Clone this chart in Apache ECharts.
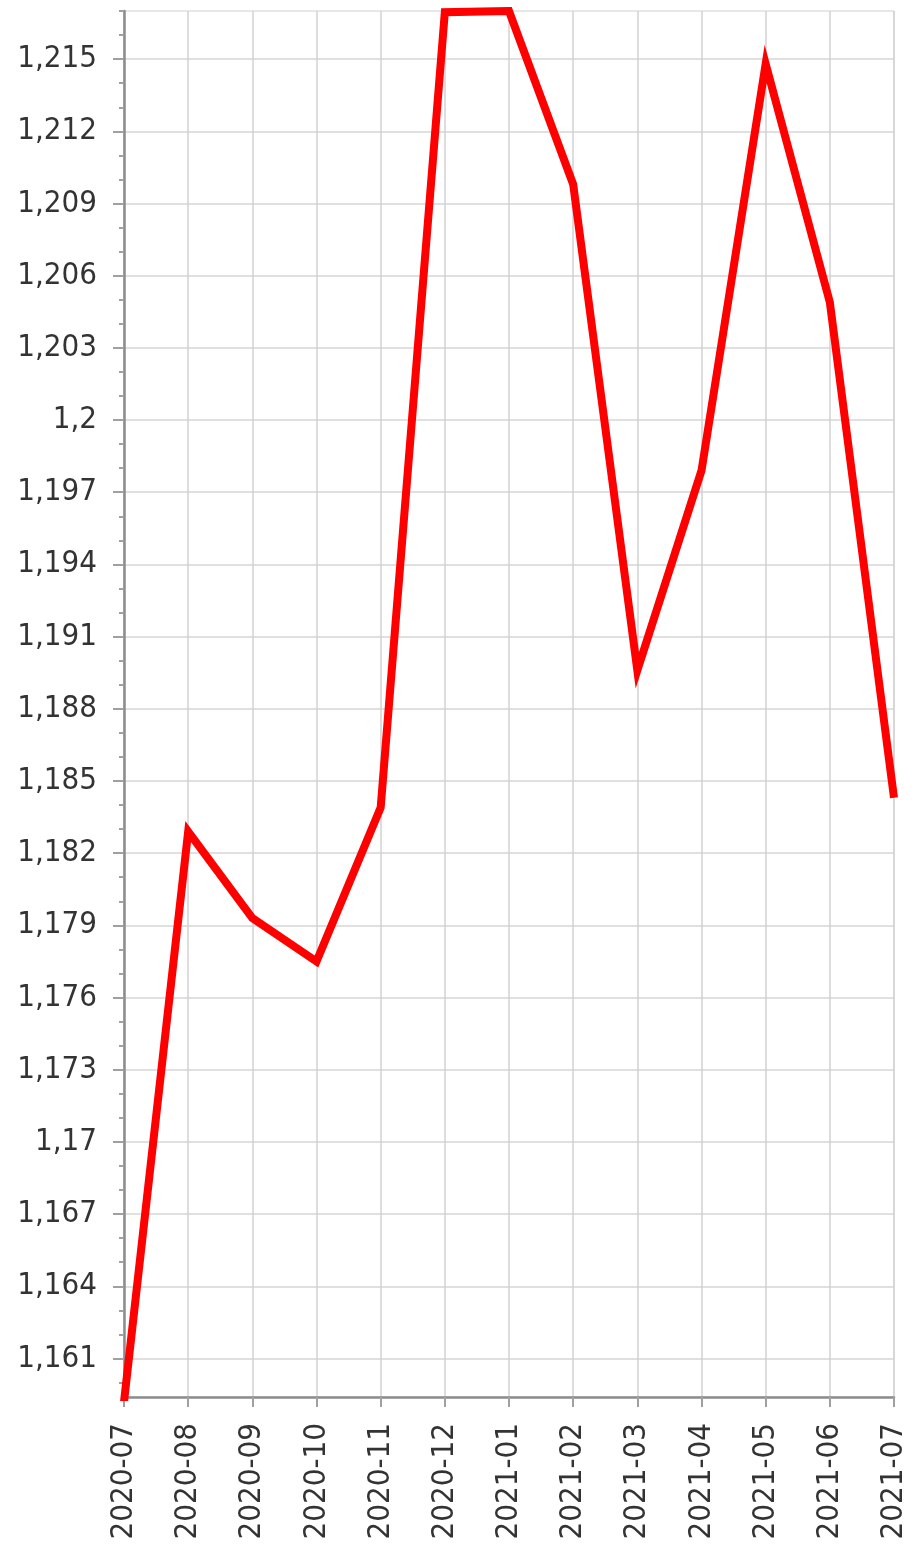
<!DOCTYPE html>
<html>
<head>
<meta charset="utf-8">
<script src="https://cdn.jsdelivr.net/npm/echarts@6/dist/echarts.min.js"></script>
<style>
  html, body { margin: 0; padding: 0; background: #fff; }
  #chart { width: 915px; height: 1544px; }
</style>
</head>
<body>
<div id="chart"></div>
<script>
var months = ['2020-07','2020-08','2020-09','2020-10','2020-11','2020-12','2021-01',
              '2021-02','2021-03','2021-04','2021-05','2021-06','2021-07'];
var values = [1.1592, 1.1829, 1.1793, 1.1775, 1.1839, 1.21695, 1.2170,
              1.2098, 1.1896, 1.1979, 1.2148, 1.2049, 1.1843];
var yTicks = [1.161, 1.164, 1.167, 1.17, 1.173, 1.176, 1.179, 1.182, 1.185, 1.188,
              1.191, 1.194, 1.197, 1.2, 1.203, 1.206, 1.209, 1.212, 1.215];
var yMin = 1.1594;
var yMax = 1.2170;

// minor ticks, two between each labelled tick
var yMinor = [1.160];
yTicks.forEach(function(t){
  yMinor.push(+(t + 0.001).toFixed(3));
  yMinor.push(+(t + 0.002).toFixed(3));
});
yMinor = yMinor.filter(function(v){ return v <= yMax; });

var font = "'DejaVu Sans Condensed', 'Liberation Sans', sans-serif";

var chart = echarts.init(document.getElementById('chart'));
var option = {
  animation: false,
  backgroundColor: '#fff',
  grid: {
    left: 124, right: 21, top: 11, bottom: 147,
    show: true,
    borderColor: '#d0d0d0',
    borderWidth: 1
  },
  xAxis: {
    type: 'category',
    data: months,
    boundaryGap: false,
    axisLine: { lineStyle: { color: '#8c8c8c', width: 2.5 } },
    axisTick: { alignWithLabel: true, length: 10, lineStyle: { color: '#a0a0a0', width: 2 } },
    axisLabel: {
      rotate: 90,
      margin: 26,
      color: '#333',
      fontSize: 31,
      fontFamily: font,
      interval: 0
    },
    splitLine: { show: true, lineStyle: { color: '#d2d2d2', width: 1.5 } }
  },
  yAxis: [{
    type: 'value',
    min: yMin,
    max: yMax,
    axisLine: { show: true, lineStyle: { color: '#8c8c8c', width: 2.5 } },
    axisTick: { show: true, length: 11, customValues: yTicks, lineStyle: { color: '#a0a0a0', width: 2 } },
    axisLabel: {
      customValues: yTicks,
      margin: 27,
      color: '#333',
      fontSize: 31,
      fontFamily: font,
      formatter: function(v){ return String(+v.toFixed(3)).replace('.', ','); }
    },
    splitLine: { show: true, lineStyle: { color: '#d6d6d6', width: 1.5 } }
  }, {
    type: 'value',
    position: 'left',
    min: yMin,
    max: yMax,
    axisLine: { show: false },
    axisTick: { show: true, length: 5, customValues: yMinor, lineStyle: { color: '#a0a0a0', width: 2 } },
    axisLabel: { show: false },
    splitLine: { show: false }
  }],
  series: [{
    type: 'line',
    data: values,
    yAxisIndex: 0,
    showSymbol: false,
    symbol: 'none',
    clip: true,
    lineStyle: { color: '#ff0000', width: 8, join: 'miter' },
    z: 3
  }]
};
chart.setOption(option);
</script>
</body>
</html>
